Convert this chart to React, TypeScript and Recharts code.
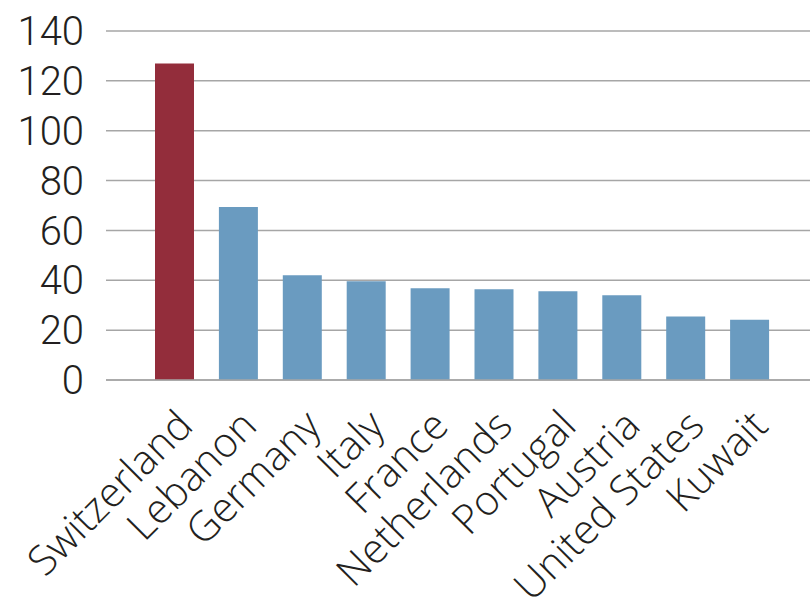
import React from 'react';
import { BarChart, Bar, XAxis, YAxis, CartesianGrid, Cell } from 'recharts';

const countries = [
    'Switzerland',
    'Lebanon',
    'Germany',
    'Italy',
    'France',
    'Netherlands',
    'Portugal',
    'Austria',
    'United States',
    'Kuwait',
];
const values = [127, 69.4, 42, 39.6, 36.8, 36.4, 35.6, 34, 25.5, 24.2];
const yTicks = [0, 20, 40, 60, 80, 100, 120, 140];

const highlight = '#932d3b';
const base = '#6a9bc0';
const textColor = '#231f20';
const font = 'Roboto, "Liberation Sans", sans-serif';
const labelFont = '"Open Sans", Roboto, sans-serif';

const data = countries.map((name, i) => ({ name, value: values[i] }));

const XTick = ({ x, y, payload }: any) => (
    <g transform={`translate(${x + 20},${y + 40})`}>
        <text
            textAnchor="end"
            transform="rotate(-45)"
            fill={textColor}
            fontSize={41}
            fontWeight={300}
            fontFamily={labelFont}
        >
            {payload.value}
        </text>
    </g>
);

export default function App() {
    return (
        <div style={{ position: 'absolute', left: 0, top: 0, width: 810, height: 600, background: '#fff' }}>
            <BarChart width={810} height={600} data={data} margin={{ top: 31, right: 0, left: 0, bottom: 0 }}>
                <CartesianGrid vertical={false} stroke="#a6a6a6" strokeWidth={1.5} />
                <XAxis
                    dataKey="name"
                    interval={0}
                    height={220}
                    tick={<XTick />}
                    tickLine={false}
                    axisLine={{ stroke: '#a6a6a6', strokeWidth: 1.5 }}
                    padding={{ left: 37, right: 28 }}
                />
                <YAxis
                    domain={[0, 140]}
                    ticks={yTicks}
                    interval={0}
                    width={106}
                    tickLine={false}
                    axisLine={false}
                    tickSize={0}
                    tickMargin={22}
                    tick={{ fill: textColor, fontSize: 40, fontWeight: 300, fontFamily: font }}
                />
                <Bar dataKey="value" barSize={39} isAnimationActive={false}>
                    {data.map((d, i) => (
                        <Cell key={d.name} fill={i === 0 ? highlight : base} />
                    ))}
                </Bar>
            </BarChart>
        </div>
    );
}
